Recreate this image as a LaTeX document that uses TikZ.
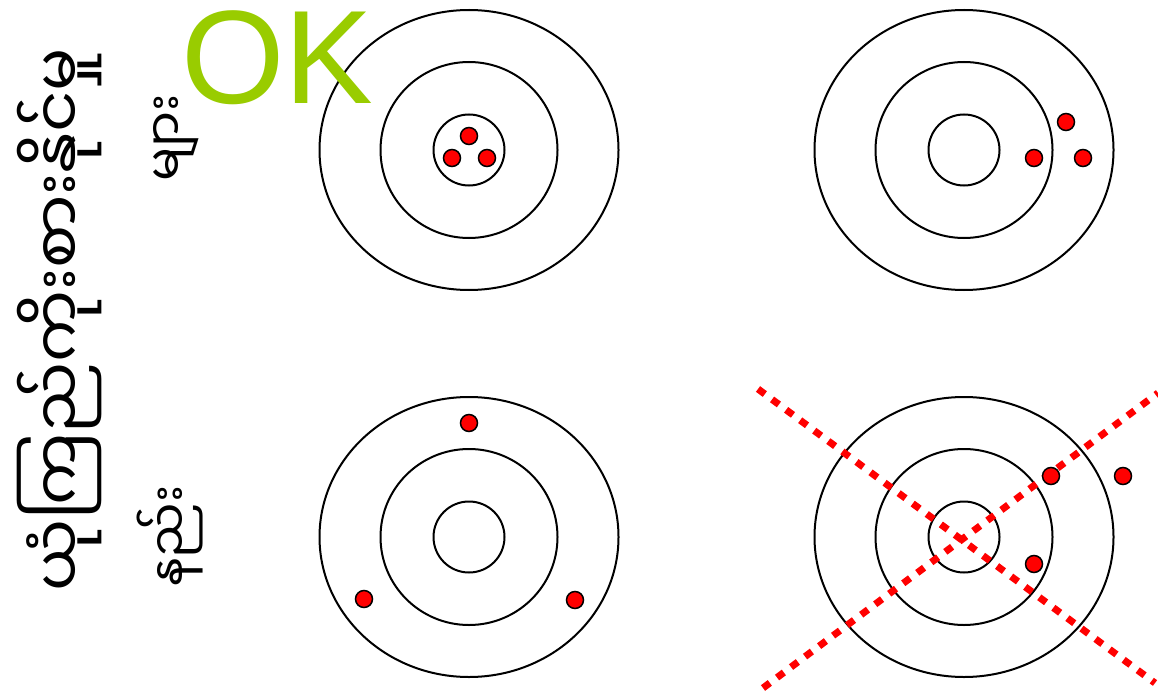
\documentclass[tikz,border=0pt]{standalone}
\usepackage{fontspec}
\setmainfont{Liberation Sans}
\newfontfamily\mmfont[Script=Myanmar]{Noto Sans Myanmar UI}
\definecolor{okgreen}{HTML}{99CC00}
\begin{document}
\begin{tikzpicture}[x=1pt,y=-1pt,
  ring/.style={draw=black,line width=2pt},
  shot/.style={draw=black,fill=red,line width=1.5pt},
  cross/.style={draw=red,line width=7pt,dash pattern=on 8.5pt off 9pt},
  mmbig/.style={font=\mmfont\fontsize{64}{76}\selectfont,inner sep=0pt,rotate=90},
  mmrow/.style={font=\mmfont\fontsize{50}{60}\selectfont,inner sep=0pt,rotate=90},
  oklabel/.style={font=\fontsize{133}{140}\selectfont,text=okgreen,inner sep=0pt,anchor=base west}]
\useasboundingbox (0,0) rectangle (1158,695);
% targets
\foreach \cx/\cy in {469/150, 964/150, 469/537, 964/537}{
  \draw[ring] (\cx,\cy) ellipse[x radius=149.5,y radius=140];
  \draw[ring] (\cx,\cy) ellipse[x radius=88.5,y radius=88];
  \draw[ring] (\cx,\cy) ellipse[x radius=35.5,y radius=35.5];
}
% red cross
\coordinate (c1a) at (758,389);
\coordinate (c1b) at (1155,683);
\coordinate (c2a) at (763,688);
\coordinate (c2b) at (1158,393);
\draw[cross] (c1a) -- (c1b);
\draw[cross] (c2a) -- (c2b);
% shots
\foreach \px/\py in {469/136, 452/158, 487/158,
                     1066/122, 1034/158, 1083/158,
                     469/423, 364/599, 575/600,
                     1051/476, 1123/476, 1034/564}{
  \draw[shot] (\px,\py) circle[radius=8.5];
}
% labels
\node[mmbig] (main) at (60,320) {ယုံကြည်ကိုးစားနိုင်မှု};
\node[mmrow] (many) at (176,138) {များ};
\node[mmrow] (few) at (170,536) {နည်း};
\node[oklabel] (ok) at (181,104) {OK};
\end{tikzpicture}
\end{document}
